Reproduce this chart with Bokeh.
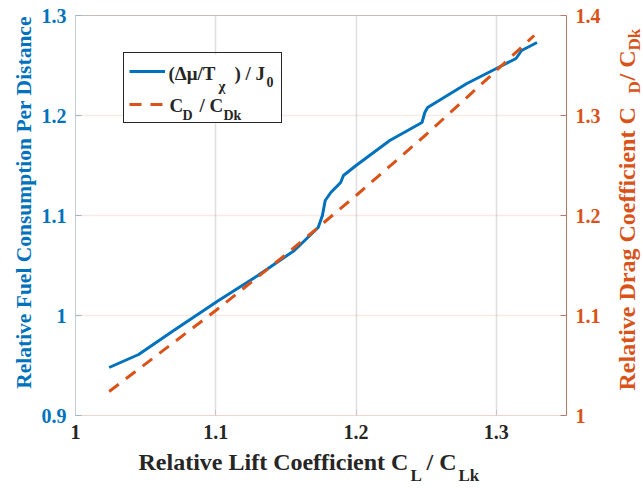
import math
from bokeh.plotting import figure
from bokeh.layouts import row, column
from bokeh.models import (Range1d, LinearAxis, FixedTicker, Label, Legend, LegendItem,
                          BoxAnnotation)
from bokeh.embed import file_html
from bokeh.resources import INLINE

# ---- data ----
lift_fuel = [1.024, 1.045, 1.070, 1.102, 1.130, 1.156, 1.173, 1.176, 1.178, 1.182,
             1.189, 1.191, 1.200, 1.224, 1.247, 1.249, 1.251, 1.279, 1.300, 1.314,
             1.318, 1.329]
fuel = [0.948, 0.961, 0.985, 1.015, 1.040, 1.065, 1.088, 1.100, 1.115, 1.123,
        1.133, 1.140, 1.150, 1.175, 1.193, 1.203, 1.208, 1.232, 1.247, 1.257,
        1.265, 1.273]
lift_drag = [1.024, 1.100, 1.150, 1.200, 1.250, 1.300, 1.327]
drag = [1.024, 1.105, 1.161, 1.220, 1.281, 1.345, 1.380]

x_ticks = [1.0, 1.1, 1.2, 1.3]
x_tick_labels = ["1", "1.1", "1.2", "1.3"]
left_ticks = [0.9, 1.0, 1.1, 1.2, 1.3]
left_tick_labels = ["0.9", "1", "1.1", "1.2", "1.3"]
right_ticks = [1.0, 1.1, 1.2, 1.3, 1.4]
right_tick_labels = ["1", "1.1", "1.2", "1.3", "1.4"]

BLUE = "#0072BD"
ORANGE = "#D95319"
DARK = "#262626"
FONT = "Liberation Serif"

W, H = 643, 491
LW = 38          # width of left label strip
RW = 37          # width of right label strip
BL, BR, BT, BB = 35, 40, 15, 35   # borders of main plot
FW, FH = 493, 400
PW = BL + FW + BR
PH = BT + FH + BB
BH = H - PH      # height of bottom label strip

p = figure(width=PW, height=PH, title=None,
           x_range=Range1d(1.0, 1.35), y_range=Range1d(0.9, 1.3),
           output_backend="svg", toolbar_location=None,
           min_border_left=BL, min_border_right=BR,
           min_border_top=BT, min_border_bottom=BB,
           background_fill_color="white", border_fill_color="white")
p.extra_y_ranges = {"right": Range1d(1.0, 1.4)}
p.outline_line_color = "#c9bdb9"
p.outline_line_width = 1


def style_axis(ax, ticks, labels, color, line_color, tick_color):
    ax.ticker = FixedTicker(ticks=ticks)
    ax.major_label_overrides = {t: l for t, l in zip(ticks, labels)}
    ax.major_label_text_font = FONT
    ax.major_label_text_font_style = "bold"
    ax.major_label_text_font_size = "20px"
    ax.major_label_text_color = color
    ax.major_label_standoff = 9
    ax.axis_line_color = line_color
    ax.major_tick_line_color = tick_color
    ax.major_tick_in = 6
    ax.major_tick_out = 0
    ax.minor_tick_line_color = None
    ax.axis_label = None


style_axis(p.xaxis[0], x_ticks, x_tick_labels, DARK, "#ecd6cf", "#c8c8c8")
style_axis(p.yaxis[0], left_ticks, left_tick_labels, BLUE, "#c5ced6", "#9fb4c8")
right_axis = LinearAxis(y_range_name="right")
style_axis(right_axis, right_ticks, right_tick_labels, ORANGE, "#b87a66", "#b87a66")
p.add_layout(right_axis, "right")

p.xgrid.ticker = FixedTicker(ticks=x_ticks)
p.xgrid.grid_line_color = DARK
p.xgrid.grid_line_alpha = 0.15
p.xgrid.grid_line_width = 1.5
p.ygrid.ticker = FixedTicker(ticks=left_ticks)
p.ygrid.grid_line_color = ORANGE
p.ygrid.grid_line_alpha = 0.12
p.ygrid.grid_line_width = 1.5

# global pixel geometry of the main frame
FL = LW + BL          # 73
FB = BT + FH          # 415

# white legend background, drawn above the grid
p.add_layout(BoxAnnotation(left=121 - FL, right=278 - FL, top=FB - 54, bottom=FB - 123,
                           left_units="screen", right_units="screen",
                           top_units="screen", bottom_units="screen",
                           fill_color="white", fill_alpha=1.0, line_color=None,
                           level="underlay"))

blue = p.line(lift_fuel, fuel, line_color=BLUE, line_width=3)
orange = p.line(lift_drag, drag, line_color=ORANGE, line_width=3,
                line_dash="12 9", y_range_name="right")

legend = Legend(items=[LegendItem(label=" ", renderers=[blue]),
                       LegendItem(label=" ", renderers=[orange])],
                location=(121 - FL, FB - 123), orientation="vertical",
                padding=5, spacing=7, margin=0,
                glyph_width=36, glyph_height=26, label_height=26,
                label_width=107, label_standoff=4,
                label_text_font_size="8px",
                border_line_color=DARK, border_line_width=1, border_line_alpha=1.0,
                background_fill_alpha=0.0, level="annotation")
p.add_layout(legend)

SHIFT = 0.25   # baseline correction, fraction of font size


def make_label(text, x, y, size, color, angle=0.0, align="left"):
    return Label(x=x, y=y, x_units="screen", y_units="screen",
                 text=text, text_font=FONT, text_font_style="bold",
                 text_font_size=f"{size}px", text_color=color,
                 text_baseline="alphabetic", text_align=align,
                 angle=angle, level="overlay")


def lab_main(text, px, py, size, color):
    p.add_layout(make_label(text, px - FL, FB - (py - SHIFT * size), size, color))


def strip(w, h):
    f = figure(width=w, height=h, title=None,
               x_range=Range1d(0, w), y_range=Range1d(0, h),
               output_backend="svg", toolbar_location=None,
               x_axis_location=None, y_axis_location=None,
               min_border=0, min_border_left=0, min_border_right=0,
               min_border_top=0, min_border_bottom=0)
    f.outline_line_color = None
    f.xgrid.visible = False
    f.ygrid.visible = False
    return f


left_strip = strip(LW, PH)
right_strip = strip(RW, PH)
bottom_strip = strip(W, BH)


def lab_side(f, ox, text, px, py, size, color, align="left"):
    # side strips share the main frame's vertical extent (row alignment)
    f.add_layout(make_label(text, px - SHIFT * size - ox, FB - py, size, color,
                            math.pi / 2, align))


def lab_bottom(text, px, py, size, color):
    bottom_strip.add_layout(make_label(text, px, PH + BH - (py - SHIFT * size),
                                       size, color))


LAB = 24   # axis label font size
SUB = 17   # axis label subscript size

# left axis label
lab_side(left_strip, 0, "Relative Fuel Consumption Per Distance",
         29, 202, 21.5, BLUE, "center")

# right axis label
RX = LW + PW
lab_side(right_strip, RX, "Relative Drag Coefficient C", 632, 390, LAB, ORANGE)
lab_side(right_strip, RX, "D", 638, 93, SUB, ORANGE)
lab_side(right_strip, RX, "/ C", 632, 80, LAB, ORANGE)
lab_side(right_strip, RX, "Dk", 638, 50, SUB, ORANGE)

# x axis label
lab_bottom("Relative Lift Coefficient C", 138, 467, LAB, DARK)
lab_bottom("L", 410, 479, SUB, DARK)
lab_bottom("/ C", 426, 467, LAB, DARK)
lab_bottom("Lk", 458, 479, SUB, DARK)

# legend texts
lab_main("(\u0394\u03bc/T", 166, 78, 19, DARK)
lab_main("\u03c7", 216, 89, 15, DARK)
lab_main(") / J", 232, 78, 19, DARK)
lab_main("0", 264, 85, 14, DARK)
lab_main("C", 167, 110, 19, DARK)
lab_main("D", 180, 118, 14, DARK)
lab_main("/ C", 197, 110, 19, DARK)
lab_main("Dk", 221, 118, 14, DARK)

layout = column(row(left_strip, p, right_strip, spacing=0), bottom_strip, spacing=0)
open("out.html", "w").write(file_html(layout, INLINE))
